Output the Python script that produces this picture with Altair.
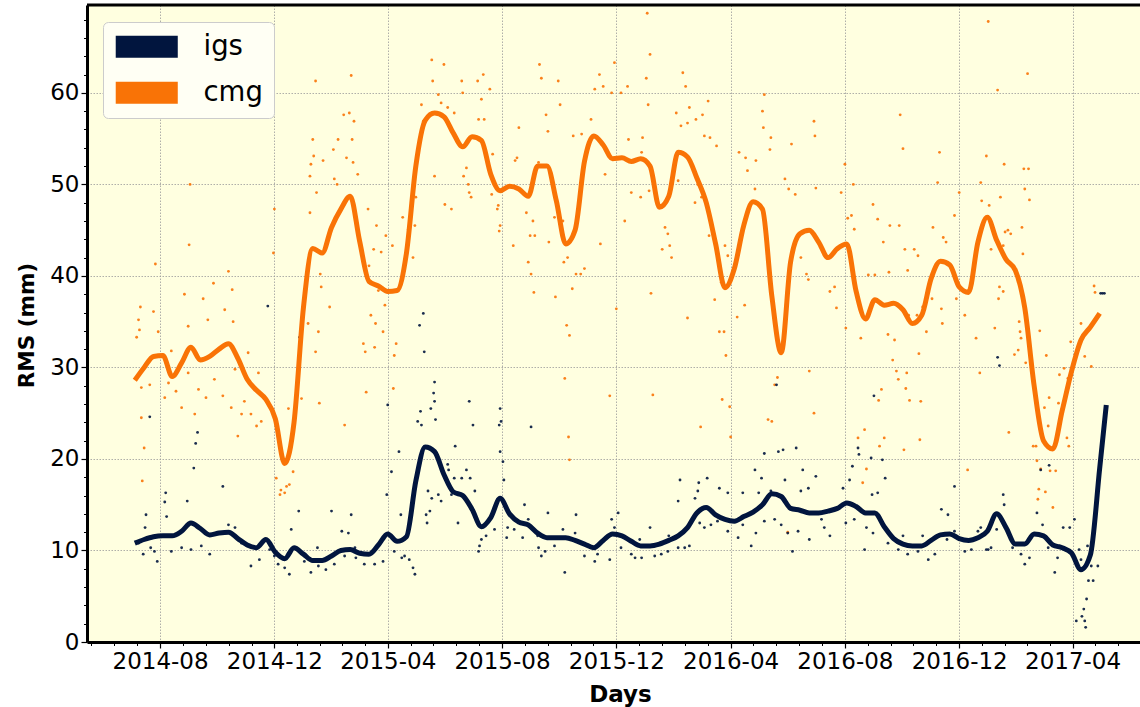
import altair as alt
import pandas as pd

NAVY = "#01153e"
ORANGE = "#f97306"
BG = "#ffffe0"

# ---------------- data ----------------
START = "2014-07-05"          # first sample of the smoothed curves
STEP = "10D"                  # curve sampling step

cmg_line = [28.6, 30.0, 31.2, 31.3, 29.0, 30.5, 32.2, 30.8, 31.2, 32.0,
            32.6, 31.0, 28.7, 27.5, 26.5, 24.4, 19.5, 24.0, 36.5, 43.0,
            42.5, 45.3, 47.3, 48.7, 43.8, 39.4, 38.9, 38.3, 38.4, 42.5,
            52.0, 57.0, 57.8, 57.4, 55.6, 54.1, 55.2, 54.8, 51.1, 49.3,
            49.8, 49.5, 48.7, 52.0, 52.0, 48.2, 43.5, 45.0, 52.5, 55.3,
            54.3, 52.8, 52.9, 52.5, 52.8, 52.0, 47.5, 48.7, 53.5, 53.0,
            50.7, 48.0, 43.5, 38.7, 40.8, 45.5, 48.1, 47.3, 37.8, 31.6,
            41.5, 44.6, 45.0, 43.7, 42.0, 43.0, 43.5, 38.3, 35.3, 37.4,
            36.8, 37.0, 36.3, 34.8, 35.7, 39.7, 41.6, 41.2, 38.8, 38.2,
            43.7, 46.4, 43.9, 41.8, 40.6, 36.5, 28.0, 22.0, 21.1, 25.3,
            29.6, 33.0, 34.4, 35.9]

igs_line = [10.8, 11.2, 11.5, 11.6, 11.6, 12.1, 13.0, 12.4, 11.7, 11.9,
            12.0, 11.3, 10.6, 10.3, 11.2, 9.8, 9.1, 10.3, 9.6, 8.9,
            8.9, 9.4, 10.0, 10.1, 9.7, 9.6, 10.6, 11.8, 11.0, 11.5,
            17.6, 21.3, 20.8, 18.3, 16.4, 16.0, 14.5, 12.6, 13.6, 15.7,
            14.0, 13.1, 12.8, 11.9, 11.4, 11.4, 11.4, 11.1, 10.7, 10.3,
            11.1, 11.8, 11.6, 11.0, 10.5, 10.5, 10.7, 11.1, 11.6, 12.5,
            14.1, 14.7, 13.9, 13.4, 13.2, 13.7, 14.2, 15.0, 16.2, 15.9,
            14.6, 14.4, 14.1, 14.1, 14.3, 14.6, 15.2, 14.8, 14.1, 14.1,
            12.6, 11.3, 10.7, 10.5, 10.5, 11.1, 11.7, 11.8, 11.3, 11.1,
            11.4, 12.1, 14.0, 12.5, 10.7, 10.7, 11.8, 11.6, 10.6, 10.3,
            9.7, 7.9, 9.5, 19.0, 25.9]
igs_last_date = "2017-05-07"

# daily values: (days after START, RMS mm)
cmg_dots = [
    (59, 50.0), (58, 43.4), (22, 41.3), (53, 38.0), (84, 39.2), (100, 40.5), (104, 38.5), (73, 37.5), (6, 36.6), (20, 36.1),
    (4, 35.2), (5, 34.1), (25, 33.9), (2, 33.3), (57, 34.5), (78, 35.2), (96, 36.3), (105, 35.0), (39, 31.8), (7, 24.5),
    (10, 21.2), (8, 17.6), (7, 27.8), (16, 28.1), (36, 28.3), (44, 27.4), (50, 25.6), (57, 29.4), (68, 27.6), (76, 26.7),
    (85, 28.7), (94, 26.9), (103, 25.6), (110, 22.5), (114, 24.9), (117, 26.3), (124, 24.9), (130, 23.6), (135, 24.1), (107, 29.8),
    (121, 31.6), (132, 29.4), (32, 26.7), (64, 24.9),
    (193, 61.3), (231, 61.9), (229, 57.8), (223, 57.6), (234, 56.9), (190, 54.9), (217, 54.9), (191, 53.1), (201, 52.6), (212, 53.8),
    (232, 54.9), (226, 52.9), (188, 52.2), (187, 50.9), (194, 49.1), (213, 50.6), (216, 50.0), (233, 52.4), (238, 51.1), (149, 47.3),
    (148, 42.5), (187, 46.9), (249, 47.3), (258, 45.5), (268, 44.4), (263, 42.6), (275, 43.3), (286, 46.4), (292, 45.1), (299, 45.5),
    (297, 42.0), (255, 42.9), (250, 41.1), (260, 38.4), (267, 36.8), (265, 33.9), (252, 35.7), (257, 34.8), (244, 32.6), (246, 31.7),
    (256, 32.2), (277, 31.3), (279, 32.6), (276, 27.7), (247, 27.3), (197, 26.1), (224, 23.7), (196, 33.9), (193, 31.7), (198, 40.2),
    (208, 36.6), (199, 38.8), (185, 34.8), (151, 17.9), (156, 16.6), (162, 17.0), (165, 17.2), (169, 18.6), (164, 25.5), (155, 16.1),
    (160, 16.3), (306, 58.7), (308, 56.9), (317, 63.6), (318, 61.3), (327, 58.9), (320, 50.9), (331, 47.8), (300, 48.6), (304, 54.0),
    (330, 63.1), (324, 59.8), (178, 26.6),
    (349, 61.3), (366, 61.3), (372, 62.0), (432, 63.1), (434, 61.6), (452, 61.3), (350, 60.0), (379, 60.4), (370, 59.3), (367, 57.1),
    (341, 57.8), (373, 57.1), (334, 58.4), (439, 57.6), (410, 56.2), (454, 58.7), (487, 57.1), (491, 60.4), (500, 60.7), (496, 62.0),
    (512, 63.3), (509, 60.0), (519, 60.0), (468, 55.3), (477, 55.5), (441, 55.8), (354, 51.8), (356, 50.0), (351, 50.9), (338, 47.3),
    (357, 49.1), (381, 48.9), (388, 47.7), (390, 45.5), (389, 44.9), (406, 52.6), (431, 52.4), (418, 46.9), (425, 46.0), (422, 44.4),
    (427, 44.4), (420, 41.5), (404, 43.3), (442, 43.7), (448, 46.4), (457, 46.0), (458, 41.5), (462, 42.0), (471, 40.2), (476, 40.2),
    (467, 38.6), (480, 40.8), (423, 40.2), (426, 38.2), (449, 37.7), (461, 34.6), (464, 33.5), (459, 28.8), (463, 22.4), (464, 19.9),
    (497, 43.5), (502, 51.1), (507, 26.9), (514, 36.4), (523, 46.0), (387, 47.3), (382, 53.3), (359, 48.6), (408, 52.9), (414, 49.1),
    (547, 68.7), (550, 64.2), (546, 61.6), (548, 58.7), (585, 62.2), (588, 60.7), (612, 59.1), (606, 57.6), (599, 57.1), (578, 57.8),
    (583, 56.4), (590, 56.7), (592, 58.4), (526, 60.7), (542, 55.1), (541, 53.5), (527, 54.9), (608, 55.3), (614, 55.1), (621, 54.2),
    (672, 59.8), (670, 58.0), (671, 56.2), (679, 55.1), (678, 53.8), (701, 54.4), (663, 52.6), (654, 51.5), (645, 53.5), (530, 49.1),
    (540, 48.6), (549, 49.3), (564, 47.7), (566, 45.3), (569, 44.6), (571, 43.3), (563, 42.9), (573, 42.0), (580, 50.4), (601, 50.0),
    (605, 48.6), (613, 44.4), (598, 48.0), (630, 43.3), (633, 42.2), (626, 39.3), (619, 37.4), (629, 33.9), (624, 33.9), (643, 35.5),
    (651, 36.8), (680, 24.1), (676, 24.3), (683, 28.1), (686, 28.9), (551, 38.1), (590, 35.4), (553, 27.0), (604, 23.5), (627, 26.5),
    (631, 31.3), (635, 25.7), (636, 22.4), (697, 12.0), (704, 43.7), (705, 48.9), (711, 42.0), (717, 40.2), (698, 49.5), (694, 50.6),
    (652, 52.9), (662, 49.5),
    (817, 57.6), (820, 53.9), (725, 56.9), (726, 55.3), (859, 53.5), (857, 50.2), (758, 52.2), (767, 50.0), (754, 49.1), (727, 49.6),
    (761, 46.3), (765, 46.6), (768, 45.1), (793, 46.2), (788, 47.8), (816, 45.5), (806, 45.5), (799, 43.7), (822, 42.9), (832, 42.9),
    (852, 45.3), (863, 44.2), (866, 43.7), (875, 46.6), (880, 49.1), (903, 50.2), (909, 53.1), (904, 48.2), (740, 42.0), (751, 42.9),
    (742, 38.3), (747, 38.8), (749, 36.5), (719, 39.6), (759, 34.3), (775, 33.2), (783, 40.1), (790, 40.1), (805, 40.4), (825, 40.6),
    (836, 42.2), (804, 33.6), (811, 33.0), (826, 35.7), (835, 35.7), (845, 33.9), (841, 36.6), (851, 37.5), (861, 36.4), (862, 34.8),
    (877, 37.5), (886, 35.7), (898, 33.2), (902, 29.4), (809, 30.8), (813, 29.6), (815, 28.7), (824, 29.4), (823, 27.7), (827, 26.4),
    (839, 26.3), (837, 31.5), (797, 27.6), (794, 26.4), (779, 23.2), (772, 22.3), (777, 17.4), (781, 18.9), (795, 21.4), (800, 22.3),
    (821, 21.0), (838, 22.1), (889, 18.8), (725, 25.0), (720, 29.6),
    (911, 67.8), (953, 62.1), (921, 60.3), (928, 52.2), (949, 51.7), (954, 51.7), (950, 49.5), (955, 48.3), (924, 48.6), (912, 47.7),
    (932, 45.0), (935, 44.6), (929, 44.8), (947, 45.3), (914, 42.9), (927, 43.3), (948, 42.4), (923, 38.8), (927, 38.3), (922, 37.5),
    (918, 34.3), (944, 35.0), (945, 33.9), (946, 33.2), (943, 31.9), (939, 31.4), (951, 30.5), (966, 34.0), (973, 31.3), (976, 26.7),
    (971, 25.6), (975, 23.6), (987, 29.2), (992, 29.9), (996, 28.8), (999, 32.8), (1010, 34.8), (1014, 31.2), (1021, 30.1), (1024, 38.9),
    (1025, 38.2), (986, 26.1), (995, 22.3), (997, 21.4), (959, 21.4), (962, 21.4), (963, 19.8), (967, 18.9), (965, 16.7), (964, 15.6),
    (972, 16.4), (977, 18.7), (980, 14.7), (983, 18.7), (933, 22.9),
]

igs_dots = [
    (142, 36.7), (67, 22.9), (65, 21.7), (63, 19.0), (94, 17.0), (16, 24.6), (33, 16.3), (32, 15.3), (34, 13.7), (12, 13.9),
    (56, 15.4), (11, 12.5), (24, 8.8), (9, 9.6), (21, 9.9), (17, 10.3), (39, 9.9), (50, 10.3), (60, 10.1), (71, 10.5),
    (80, 9.6), (100, 12.8), (107, 12.5), (114, 10.8), (124, 8.3), (133, 9.0), (4, 10.8),
    (309, 31.7), (304, 34.6), (308, 35.9), (320, 28.4), (319, 27.2), (320, 26.3), (316, 25.5), (321, 24.3), (305, 25.2), (302, 24.1),
    (306, 23.7), (270, 25.9), (282, 20.8), (274, 18.6), (269, 16.1), (284, 13.9), (176, 33.3), (175, 14.3), (210, 14.3), (231, 13.9),
    (167, 12.3), (221, 12.1), (228, 11.9), (313, 16.5), (317, 15.7), (315, 14.3), (311, 13.9), (312, 13.0), (324, 16.1), (327, 15.4),
    (149, 9.4), (153, 8.5), (160, 8.1), (165, 7.4), (181, 8.8), (188, 7.6), (196, 8.3), (204, 7.9), (213, 8.5), (224, 9.4),
    (236, 9.2), (245, 8.5), (256, 8.5), (265, 8.8), (277, 9.9), (285, 9.2), (293, 9.0), (297, 8.1), (299, 7.4), (288, 9.4),
    (144, 10.1), (195, 10.3), (235, 10.3),
    (357, 26.3), (361, 23.7), (390, 25.5), (391, 24.1), (389, 23.7), (390, 20.8), (393, 19.7), (394, 17.7), (342, 21.4), (423, 23.5),
    (334, 19.4), (341, 17.9), (349, 17.9), (354, 18.8), (358, 17.9), (338, 16.1), (345, 13.0), (363, 16.5), (366, 13.0), (370, 11.2),
    (368, 10.5), (367, 9.9), (375, 11.6), (384, 12.3), (398, 12.5), (405, 12.3), (416, 15.0), (420, 13.4), (430, 11.6), (431, 10.3),
    (438, 9.9), (441, 14.1), (434, 9.4), (459, 7.6), (448, 10.5), (457, 12.3), (471, 13.9), (480, 9.4), (491, 8.8), (507, 9.0),
    (509, 13.4), (516, 14.1), (512, 12.5), (519, 10.3), (494, 9.6), (470, 11.9), (414, 11.4), (397, 11.4), (335, 18.8),
    (706, 21.2), (692, 21.0), (687, 20.8), (713, 18.8), (672, 20.6), (662, 18.8), (611, 17.9), (602, 17.4), (582, 17.7), (601, 16.5),
    (580, 15.4), (598, 15.7), (624, 16.8), (633, 16.3), (649, 16.3), (666, 16.3), (679, 16.5), (694, 17.7), (711, 16.5), (669, 17.9),
    (550, 12.5), (539, 11.2), (530, 9.6), (534, 9.2), (541, 9.2), (555, 9.4), (562, 9.6), (569, 9.9), (580, 10.3), (587, 10.3),
    (592, 10.5), (603, 13.0), (608, 12.5), (615, 12.8), (622, 13.2), (633, 12.1), (644, 11.4), (649, 12.8), (658, 10.5), (663, 11.9),
    (672, 13.2), (683, 13.4), (690, 12.8), (697, 11.9), (702, 9.9), (708, 12.1), (685, 28.1), (570, 11.6), (560, 10.8),
    (772, 21.2), (773, 20.5), (766, 19.2), (786, 20.1), (798, 19.9), (789, 26.9), (801, 17.9), (763, 17.7), (756, 16.8), (793, 16.3),
    (787, 16.1), (875, 17.0), (861, 14.5), (868, 13.9), (727, 18.1), (719, 16.8), (733, 13.4), (742, 11.6), (736, 12.5), (720, 11.2),
    (759, 13.0), (768, 13.4), (781, 12.5), (788, 11.9), (779, 10.1), (804, 10.8), (815, 10.1), (825, 9.6), (836, 9.9), (847, 9.0),
    (854, 9.6), (867, 11.2), (875, 12.1), (886, 9.9), (893, 10.1), (900, 12.1), (903, 12.5), (909, 10.1), (820, 11.6), (841, 11.6),
    (921, 31.1), (923, 30.2), (967, 18.8), (976, 19.3), (963, 14.1), (927, 16.1), (928, 15.0), (920, 12.3), (914, 10.3), (911, 10.1),
    (932, 12.1), (937, 10.3), (946, 9.6), (950, 8.5), (955, 9.2), (960, 11.7), (969, 12.8), (975, 10.3), (982, 7.6), (985, 9.2),
    (987, 10.5), (991, 12.5), (998, 12.5), (1003, 13.4), (999, 9.9), (1008, 10.1), (1010, 9.0), (1017, 10.5), (1021, 8.3), (1023, 6.7),
    (1018, 6.7), (1028, 8.3), (1005, 2.3), (1014, 2.3), (1013, 3.6), (1015, 1.6), (1016, 4.7), (1011, 2.8), (1002, 9.5), (1031, 38.1),
    (1033, 38.1), (1035, 38.1),
]

series_names = ["igs", "cmg"]
series_colors = [NAVY, ORANGE]
major_ticks = ["2014-08-01", "2014-12-01", "2015-04-01", "2015-08-01", "2015-12-01",
               "2016-04-01", "2016-08-01", "2016-12-01", "2017-04-01"]
x_min, x_max = "2014-05-15", "2017-06-12"
y_max = 69.6
y_major = [0, 10, 20, 30, 40, 50, 60]
y_minor = [v for v in range(2, 70, 2) if v % 10 != 0]

# ---------------- frames ----------------
start = pd.Timestamp(START)
dates = pd.date_range(start, periods=len(cmg_line), freq=STEP)
igs_dates = list(dates[: len(igs_line) - 1]) + [pd.Timestamp(igs_last_date)]
lines = pd.concat([
    pd.DataFrame({"date": dates, "rms": cmg_line, "series": "cmg"}),
    pd.DataFrame({"date": igs_dates, "rms": igs_line, "series": "igs"}),
], ignore_index=True)


def dots_frame(pairs, name):
    return pd.DataFrame({
        "date": [start + pd.Timedelta(days=d) for d, _ in pairs],
        "rms": [v for _, v in pairs],
        "series": name,
    })


dots = pd.concat([dots_frame(cmg_dots, "cmg"), dots_frame(igs_dots, "igs")], ignore_index=True)


def dt(ts):
    ts = pd.Timestamp(ts)
    return alt.DateTime(year=ts.year, month=ts.month, date=ts.day,
                        hours=ts.hour, minutes=ts.minute)


majors = [pd.Timestamp(t) for t in major_ticks]
lo, hi = pd.Timestamp(x_min), pd.Timestamp(x_max)
minors = []
for a, b in zip(majors[:-1], majors[1:]):
    minors += [a + (b - a) * j / 5 for j in range(1, 5)]
g0 = (majors[1] - majors[0]) / 5
g1 = (majors[-1] - majors[-2]) / 5
minors += [majors[0] - g0 * k for k in range(1, 5)]
minors += [majors[-1] + g1 * k for k in range(1, 5)]
minors = [t for t in minors if lo <= t < hi]

W, H = 1053, 637
FONT = "DejaVu Sans"

x_scale = alt.Scale(domain=[dt(lo), dt(hi)])
y_scale = alt.Scale(domain=[0, y_max])
color_scale = alt.Scale(domain=series_names, range=series_colors)

x_axis = alt.Axis(
    values=[dt(t) for t in majors], format="%Y-%m", orient="bottom",
    title="Days", grid=True, gridColor="#9a9a9a", gridDash=[1.5, 1.5], gridWidth=0.8,
    tickSize=6, tickWidth=1.2, tickColor="black",
    domainColor="black", domainWidth=3,
    labelFont=FONT, labelFontSize=23, labelColor="black", labelPadding=2,
    labelFlush=False, labelOverlap=False,
    titleFont=FONT, titleFontSize=23, titleFontWeight="bold", titleColor="black",
    titleX=533, titleY=59, titleAlign="center", titleBaseline="alphabetic",
)
y_axis = alt.Axis(
    values=y_major, format="d", orient="left",
    title="RMS (mm)", grid=True, gridColor="#9a9a9a", gridDash=[1.5, 1.5], gridWidth=0.8,
    tickSize=6, tickWidth=1.2, tickColor="black",
    domainColor="black", domainWidth=3,
    labelFont=FONT, labelFontSize=23, labelColor="black", labelPadding=2,
    titleFont=FONT, titleFontSize=21.5, titleFontWeight="bold", titleColor="black",
    titleX=-60, titleY=320, titleAngle=270, titleAlign="center", titleBaseline="middle",
)
x_minor_axis = alt.Axis(values=[dt(t) for t in minors], orient="bottom", labels=False,
                        domain=False, grid=False, title=None, tickSize=3.5,
                        tickWidth=1, tickColor="black")
y_minor_axis = alt.Axis(values=y_minor, orient="left", labels=False, domain=False,
                        grid=False, title=None, tickSize=3.5, tickWidth=1,
                        tickColor="black")

legend = alt.Legend(
    title=None, orient="none", legendX=16, legendY=17,
    symbolType="M-2.82,-1H2.82V1H-2.82Z", symbolSize=484, symbolOffset=19,
    symbolStrokeWidth=0, symbolOpacity=1,
    labelFont=FONT, labelFontSize=27.5, labelColor="black", labelOffset=43, labelLimit=300,
    rowPadding=17, padding=11, fillColor="#fffff4", strokeColor="#cccccc", cornerRadius=5,
)

dots_layer = alt.Chart(dots).mark_circle(size=8, opacity=0.9).encode(
    x=alt.X("date:T", scale=x_scale, axis=x_axis),
    y=alt.Y("rms:Q", scale=y_scale, axis=y_axis),
    color=alt.Color("series:N", scale=color_scale, legend=legend),
)

lines_layer = alt.Chart(lines).mark_line(
    strokeWidth=5, strokeJoin="round", interpolate="monotone"
).encode(
    x=alt.X("date:T", scale=x_scale, axis=None),
    y=alt.Y("rms:Q", scale=y_scale, axis=None),
    color=alt.Color("series:N", scale=color_scale, legend=None),
)

x_minor_layer = alt.Chart(lines).mark_point(opacity=0).encode(
    x=alt.X("date:T", scale=x_scale, axis=x_minor_axis),
    y=alt.Y("rms:Q", scale=y_scale, axis=None),
)
y_minor_layer = alt.Chart(lines).mark_point(opacity=0).encode(
    x=alt.X("date:T", scale=x_scale, axis=None),
    y=alt.Y("rms:Q", scale=y_scale, axis=y_minor_axis),
)

top_spine = alt.Chart(pd.DataFrame({"k": [0]})).mark_rule(color="black", strokeWidth=3).encode(
    x=alt.value(0), x2=alt.value(W), y=alt.value(0)
)

chart = (
    alt.layer(dots_layer, lines_layer, x_minor_layer, y_minor_layer, top_spine)
    .resolve_axis(x="independent", y="independent")
    .properties(width=W, height=H, autosize=alt.AutoSizeParams(type="none"),
                padding={"left": 87, "top": 5, "right": 0, "bottom": 65})
    .configure(background="white")
    .configure_view(fill=BG, stroke=None)
)

chart.save("out.html", embed_options={"renderer": "svg", "actions": False})
